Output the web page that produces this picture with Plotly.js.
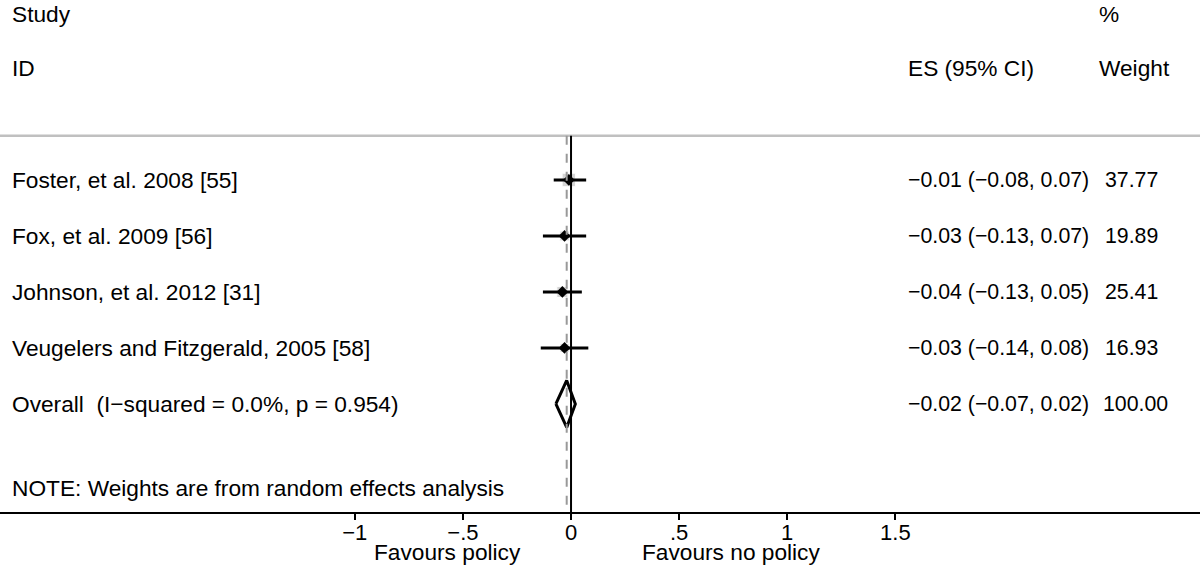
<!DOCTYPE html>
<html>
<head>
<meta charset="utf-8">
<script src="https://cdn.plot.ly/plotly-3.0.1.min.js"></script>
<style>
  html, body { margin: 0; padding: 0; background: #fff; }
  #graphics { width: 1200px; height: 567px; }
</style>
</head>
<body>
<div id="graphics"></div>
<script>
// study rows (1..4), overall row 5
var studies = ['Foster, et al. 2008 [55]', 'Fox, et al. 2009 [56]', 'Johnson, et al. 2012 [31]', 'Veugelers and Fitzgerald, 2005 [58]'];
var rows = [1, 2, 3, 4];
var es = [-0.01, -0.03, -0.04, -0.03];
var lo = [-0.08, -0.13, -0.13, -0.14];
var hi = [0.07, 0.07, 0.05, 0.08];
var weights = ['37.77', '19.89', '25.41', '16.93'];
var weightVals = [37.77, 19.89, 25.41, 16.93];

var overallLabel = 'Overall  (I\u2212squared = 0.0%, p = 0.954)';
var overallRow = 5;
var overallEs = -0.02, overallLo = -0.07, overallHi = 0.02;
var overallWeight = '100.00';

var tickVals = [-1, -0.5, 0, 0.5, 1, 1.5];
var tickText = ['\u22121', '\u2212.5', '0', '.5', '1', '1.5'];

var font = 'Liberation Sans, Arial, sans-serif';

function fmt(v) {
  var s = Math.abs(v).toFixed(2);
  return (v < 0 ? '\u2212' : '') + s;
}

var traces = [];

// weight boxes
traces.push({
  x: es, y: rows, type: 'scatter', mode: 'markers',
  marker: {symbol: 'square', color: '#c4c4c4',
    size: weightVals.map(function(w) { return Math.sqrt(w) * 2.2; })},
  hoverinfo: 'skip'
});

// CI lines and point estimates
traces.push({
  x: es, y: rows, type: 'scatter', mode: 'markers',
  marker: {symbol: 'diamond', color: '#000', size: 9},
  error_x: {type: 'data', symmetric: false,
    array: hi.map(function(h, i) { return h - es[i]; }),
    arrayminus: lo.map(function(l, i) { return es[i] - l; }),
    color: '#000', thickness: 3, width: 0},
  hoverinfo: 'skip'
});

// overall diamond
var dh = 0.42;
traces.push({
  x: [overallLo, overallEs, overallHi, overallEs, overallLo],
  y: [overallRow, overallRow - dh, overallRow, overallRow + dh, overallRow],
  type: 'scatter', mode: 'lines',
  line: {color: '#000', width: 3},
  hoverinfo: 'skip'
});

var annotations = [];
function txt(x, y, s, size) {
  annotations.push({xref: 'paper', yref: 'y', x: x, y: y, text: s,
    showarrow: false, xanchor: 'left', yanchor: 'middle',
    font: {family: font, size: size || 22.7, color: '#000'}});
}
txt(0.008, -1.97, 'Study');
txt(0.008, -1, 'ID');
txt(0.914, -1.97, '%');
txt(0.755, -1, 'ES (95% CI)');
txt(0.914, -1, 'Weight');
for (var i = 0; i < studies.length; i++) {
  txt(0.008, rows[i], studies[i]);
  txt(0.755, rows[i], fmt(es[i]) + ' (' + fmt(lo[i]) + ', ' + fmt(hi[i]) + ')', 21.3);
  txt(0.919, rows[i], weights[i], 21.3);
}
txt(0.008, overallRow, overallLabel);
txt(0.755, overallRow, fmt(overallEs) + ' (' + fmt(overallLo) + ', ' + fmt(overallHi) + ')', 21.3);
txt(0.9175, overallRow, overallWeight, 21.3);
txt(0.008, 6.5, 'NOTE: Weights are from random effects analysis');

annotations.push({xref: 'x', yref: 'paper', x: -0.57, y: -0.107, text: 'Favours policy',
  showarrow: false, xanchor: 'center', yanchor: 'bottom', font: {family: font, size: 22.7, color: '#000'}});
annotations.push({xref: 'x', yref: 'paper', x: 0.74, y: -0.107, text: 'Favours no policy',
  showarrow: false, xanchor: 'center', yanchor: 'bottom', font: {family: font, size: 22.7, color: '#000'}});

var layout = {
  width: 1200, height: 567,
  margin: {l: 0, r: 0, t: 0, b: 55},
  paper_bgcolor: '#fff', plot_bgcolor: '#fff',
  showlegend: false,
  xaxis: {
    range: [-2.641, 2.909], tickvals: tickVals, ticktext: tickText,
    showgrid: false, zeroline: false, showline: true, linecolor: '#000', linewidth: 2,
    ticks: 'outside', ticklen: 6, tickwidth: 2, tickcolor: '#000', ticklabelstandoff: -6,
    tickfont: {family: font, size: 22, color: '#000'}, fixedrange: true
  },
  yaxis: {
    range: [6.93, -2.214], visible: false, showgrid: false, zeroline: false, fixedrange: true
  },
  shapes: [
    {type: 'line', xref: 'paper', yref: 'y', x0: 0, x1: 1, y0: 0.21, y1: 0.21,
      line: {color: '#c0c0c0', width: 2.5}},
    {type: 'line', xref: 'x', yref: 'y', x0: overallEs, x1: overallEs, y0: 0.21, y1: 6.93,
      line: {color: '#999', width: 2, dash: 'dash'}},
    {type: 'line', xref: 'x', yref: 'y', x0: 0, x1: 0, y0: 0.21, y1: 6.93,
      line: {color: '#000', width: 2}}
  ],
  annotations: annotations
};

Plotly.newPlot('graphics', traces, layout, {displayModeBar: false, staticPlot: true});
</script>
</body>
</html>
